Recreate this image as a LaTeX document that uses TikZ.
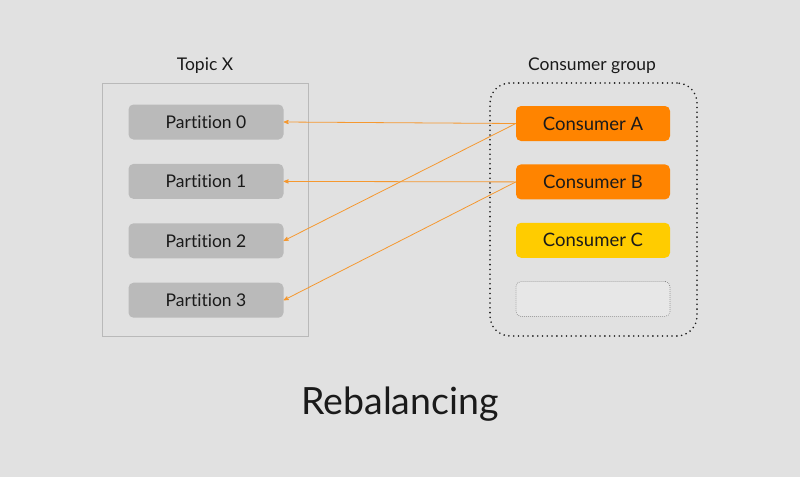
\documentclass[tikz,border=0pt]{standalone}
\usepackage{fontspec}
\setmainfont[Ligatures={NoCommon,NoContextual}]{Lato}
\usetikzlibrary{arrows,positioning,fit}
\definecolor{bggray}{HTML}{E1E1E1}
\definecolor{partgray}{HTML}{BABABA}
\definecolor{framegray}{HTML}{B9B9B9}
\definecolor{slotgray}{HTML}{E7E7E7}
\definecolor{consorange}{HTML}{FF8400}
\definecolor{consyellow}{HTML}{FFCC00}
\definecolor{linkorange}{HTML}{F5982F}
\definecolor{textdark}{HTML}{1A1A1A}
\tikzset
{
    partnode/.style  = {rounded corners=5pt, fill=partgray, minimum width=155pt, minimum height=35pt, font=\fontsize{17.5}{17.5}\selectfont, text=textdark},
    consnode/.style  = {rounded corners=5pt, fill=consorange, minimum width=154pt, minimum height=35pt, font=\fontsize{18.5}{18.5}\selectfont, text=textdark},
    grouplabel/.style = {font=\fontsize{17.5}{17.5}\selectfont, text=textdark},
    link/.style      = {->, draw=linkorange, line width=0.8pt}
}
\begin{document}
\begin{tikzpicture}[>=stealth', x=1pt, y=-1pt, node distance=24pt]
    \fill [bggray] (0,0) rectangle (800,477);
    % topic and its partitions
    \node [draw=framegray, line width=1pt, minimum width=206pt, minimum height=253pt] (topic) at (205,209.5) {};
    \node [grouplabel] (topiclabel) at (205,66) {Topic X};
    \node [partnode] (p0) at (206,122) {Partition 0};
    \node [partnode, below=of p0] (p1) {Partition 1};
    \node [partnode, below=of p1] (p2) {Partition 2};
    \node [partnode, below=of p2] (p3) {Partition 3};
    % consumer group
    \node [draw=textdark, rounded corners=20pt, line width=1.8pt, line cap=round, dash pattern=on 0pt off 4.8pt, minimum width=207pt, minimum height=253pt] (group) at (593.5,209.5) {};
    \node [grouplabel] (grouplabel) at (592,66) {Consumer group};
    \node [consnode] (ca) at (593,123.5) {Consumer A};
    \node [consnode, below=23pt of ca] (cb) {Consumer B};
    \node [consnode, fill=consyellow, below=23pt of cb] (cc) {Consumer C};
    \node [consnode, fill=slotgray, draw=gray, line width=0.9pt, line cap=round, dash pattern=on 0pt off 2pt, below=23pt of cc] (slot) {};
    % assignments
    \draw [link] (ca.west) -- (p0.east);
    \draw [link] (ca.west) -- (p2.east);
    \draw [link] (cb.west) -- (p1.east);
    \draw [link] (cb.west) -- (p3.east);
    \node [font=\fontsize{37.5}{37.5}\selectfont, text=textdark] (title) at (400,404) {Rebalancing};
\end{tikzpicture}
\end{document}
